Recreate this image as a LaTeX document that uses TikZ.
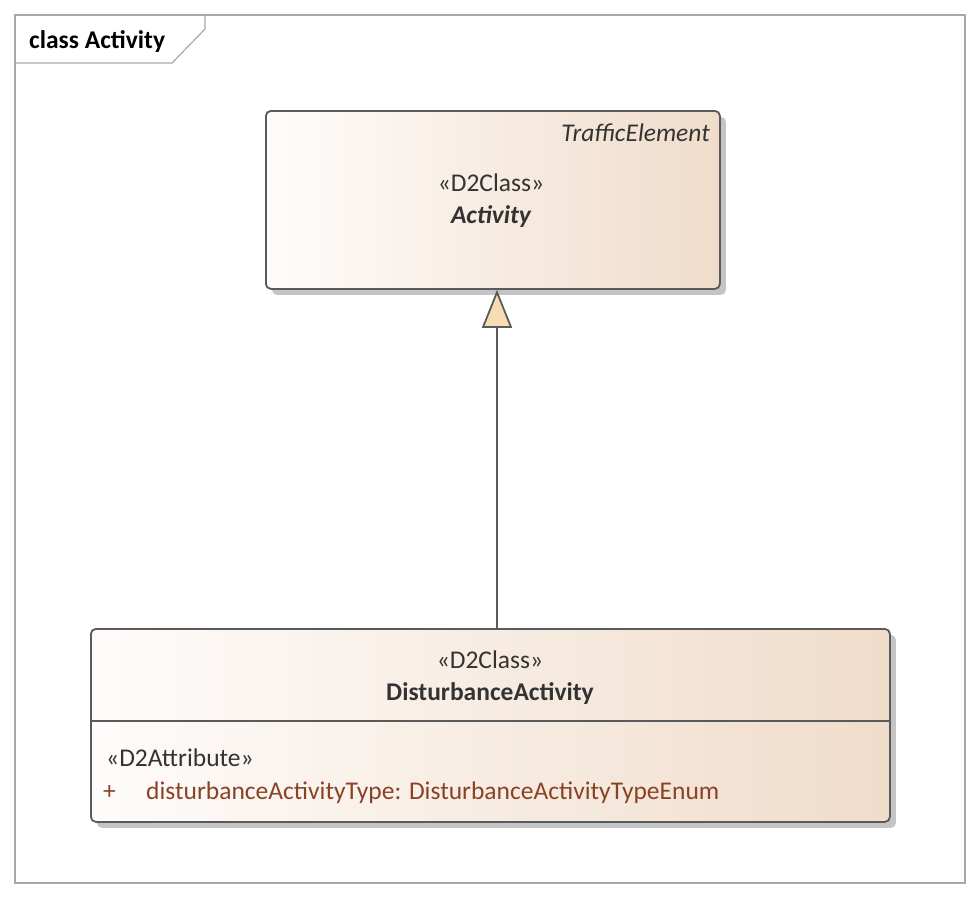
\documentclass[tikz,border=0pt]{standalone}
\usepackage{fontspec}
\setmainfont{Carlito}
\usetikzlibrary{arrows.meta,shadows}
\definecolor{framegray}{HTML}{A8A8A8}
\definecolor{boxline}{HTML}{5A5A5A}
\definecolor{txt}{HTML}{333333}
\definecolor{attr}{HTML}{8A4226}
\definecolor{gradL}{HTML}{FEFCFB}
\definecolor{gradR}{HTML}{F0DCCA}
\definecolor{tipfill}{HTML}{F8DDB2}
\definecolor{shad}{HTML}{C4C4C4}
\tikzset{
  classbox/.style={draw=boxline, line width=1.8pt, rounded corners=5pt,
    left color=gradL, middle color=gradL!65!gradR, right color=gradR, inner sep=0pt,
    drop shadow={shadow xshift=6pt, shadow yshift=-6pt, fill=shad, opacity=1}},
  lbl/.style={inner sep=0pt, text=txt, font=\fontsize{25.5}{30}\selectfont},
  conn/.style={draw=boxline, line width=1.8pt},
}
\begin{document}
\begin{tikzpicture}[x=1pt,y=-1pt]
\useasboundingbox (0,0) rectangle (980,898);
% frame
\draw[framegray, line width=1.2pt] (15,15) rectangle (965,883);
\draw[framegray, line width=1.2pt] (15,63) -- (172,63) -- (205,29) -- (205,15);
\node[lbl, anchor=base west, text=black, font=\fontsize{25.5}{30}\selectfont\bfseries] (title) at (29,48) {class Activity};
% top class
\node[classbox, minimum width=454pt, minimum height=178pt, anchor=north west] (act) at (265,110) {};
\node[lbl, anchor=base east, font=\fontsize{25.5}{30}\selectfont\itshape] (te) at (710,141) {TrafficElement};
\node[lbl, anchor=base] (st1) at (491,191) {«D2Class»};
\node[lbl, anchor=base, font=\fontsize{25.5}{30}\selectfont\bfseries\itshape] (an) at (491,223) {Activity};
% bottom class
\node[classbox, minimum width=799pt, minimum height=193pt, anchor=north west] (dis) at (90,628) {};
\draw[conn] (dis.west |- 0,721) -- (dis.east |- 0,721);
\node[lbl, anchor=base] (st2) at (490,668) {«D2Class»};
\node[lbl, anchor=base, font=\fontsize{25.5}{30}\selectfont\bfseries] (dn) at (490,700) {DisturbanceActivity};
\node[lbl, anchor=base west] (st3) at (106,766) {«D2Attribute»};
\node[lbl, anchor=base west, text=attr] (plus) at (103,799) {+};
\node[lbl, anchor=base west, text=attr] (at) at (146,799) {disturbanceActivityType: DisturbanceActivityTypeEnum};
% generalization
\draw[conn, -{Triangle[width=30pt, length=38pt, fill=tipfill, line width=1.8pt]}] (dis.north -| 497,0) -- (act.south -| 497,0);
\end{tikzpicture}
\end{document}
